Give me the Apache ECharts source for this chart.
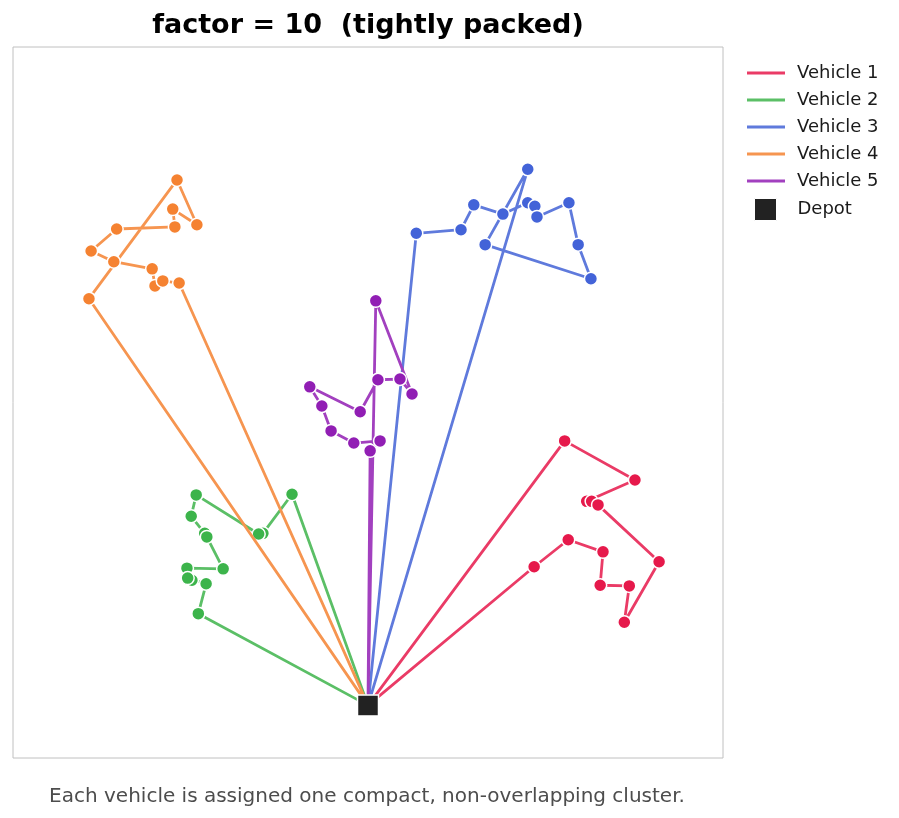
<!DOCTYPE html>
<html>
<head>
<meta charset="utf-8">
<script src="https://cdn.jsdelivr.net/npm/echarts@6/dist/echarts.min.js"></script>
<style>html,body{margin:0;padding:0;background:#fff;}#c{width:899px;height:818px;}</style>
</head>
<body>
<div id="c"></div>
<script>
// Data (plot units: x 0..100, y 0..100 across the framed area)
const depot = [50.0, 7.4];
const vehicleNames = ['Vehicle 1', 'Vehicle 2', 'Vehicle 3', 'Vehicle 4', 'Vehicle 5'];
const vehicle1 = [[77.7,44.6],[87.6,39.1],[80.8,36.1],[81.5,36.1],[82.4,35.6],[91.0,27.6],[86.1,19.1],[86.8,24.2],[82.7,24.3],[83.1,29.0],[78.2,30.7],[73.4,26.9]];
const vehicle2 = [[39.3,37.1],[35.2,31.6],[34.6,31.5],[25.8,37.0],[25.1,34.0],[27.0,31.6],[27.3,31.1],[29.6,26.6],[24.5,26.7],[25.2,25.0],[24.6,25.3],[27.2,24.5],[26.1,20.3]];
const vehicle3 = [[56.8,73.8],[63.1,74.3],[64.9,77.8],[69.0,76.5],[72.5,78.1],[73.5,77.6],[73.8,76.1],[78.3,78.1],[79.6,72.2],[81.4,67.4],[66.5,72.2],[72.5,82.8]];
const vehicle4 = [[10.7,64.6],[23.1,81.3],[25.9,75.0],[22.5,77.2],[22.8,74.7],[14.6,74.4],[11.0,71.3],[14.2,69.8],[19.6,68.8],[20.0,66.4],[21.1,67.1],[23.4,66.8]];
const vehicle5 = [[50.3,43.2],[51.7,44.6],[48.0,44.3],[44.8,46.0],[43.5,49.5],[41.8,52.2],[48.9,48.7],[51.4,53.2],[54.5,53.3],[56.2,51.2],[51.1,64.3]];
const routes = [vehicle1, vehicle2, vehicle3, vehicle4, vehicle5];
const pointColors = ['#e6194b', '#3cb44b', '#4363d8', '#f58231', '#911eb4'];
const lineColors = ['#ea3b66', '#5bbf66', '#5f7adc', '#f69550', '#a240bf'];

const chart = echarts.init(document.getElementById('c'), null, {renderer: 'canvas'});
const FONT = 'DejaVu Sans';

const series = routes.map((pts, i) => {
  const data = [{value: depot, symbol: 'none'}]
    .concat(pts.map(p => ({value: p})))
    .concat([{value: depot, symbol: 'none'}]);
  return {
    name: vehicleNames[i],
    type: 'line',
    data: data,
    symbol: 'circle',
    symbolSize: 13,
    showAllSymbol: true,
    animation: false,
    z: 2 + i,
    lineStyle: {color: lineColors[i], width: 2.8},
    itemStyle: {color: pointColors[i], borderColor: '#fff', borderWidth: 1.5},
    emphasis: {disabled: true}
  };
});
series.push({
  name: 'Depot',
  type: 'scatter',
  data: [depot],
  symbol: 'rect',
  symbolSize: 21,
  z: 20,
  animation: false,
  itemStyle: {color: '#222222', opacity: 1, borderColor: '#fff', borderWidth: 1.5},
  emphasis: {disabled: true}
});

chart.setOption({
  backgroundColor: '#fff',
  animation: false,
  title: [
    {text: 'factor = 10  (tightly packed)', left: 368, top: 12, textAlign: 'center', padding: 0,
     textStyle: {fontFamily: FONT, fontSize: 27, fontWeight: 'bold', color: '#000'}},
    {text: 'Each vehicle is assigned one compact, non-overlapping cluster.', left: 367, top: 787, textAlign: 'center', padding: 0,
     textStyle: {fontFamily: FONT, fontSize: 20, fontWeight: 'normal', color: '#4d4d4d'}}
  ],
  legend: [
    {orient: 'vertical', left: 747, top: 64, padding: 0, itemWidth: 38, itemHeight: 3, itemGap: 9, icon: 'rect',
     data: vehicleNames.map((n, i) => ({name: n, itemStyle: {color: lineColors[i], borderWidth: 0}})),
     textStyle: {fontFamily: FONT, fontSize: 18, color: '#1a1a1a', padding: [0, 0, 0, 7]},
     selectedMode: false},
    {orient: 'vertical', left: 754, top: 198, padding: 0, itemWidth: 22, itemHeight: 22, icon: 'rect',
     data: [{name: 'Depot', itemStyle: {color: '#222222', opacity: 1, borderColor: '#fff', borderWidth: 1}}],
     textStyle: {fontFamily: FONT, fontSize: 18, color: '#1a1a1a', padding: [0, 0, 0, 16]},
     selectedMode: false}
  ],
  grid: {left: 13, top: 47, width: 710, height: 711, show: true, borderColor: '#c0c0c0', borderWidth: 1, backgroundColor: '#fff'},
  xAxis: {type: 'value', min: 0, max: 100, show: false},
  yAxis: {type: 'value', min: 0, max: 100, show: false},
  series: series
});
</script>
</body>
</html>
